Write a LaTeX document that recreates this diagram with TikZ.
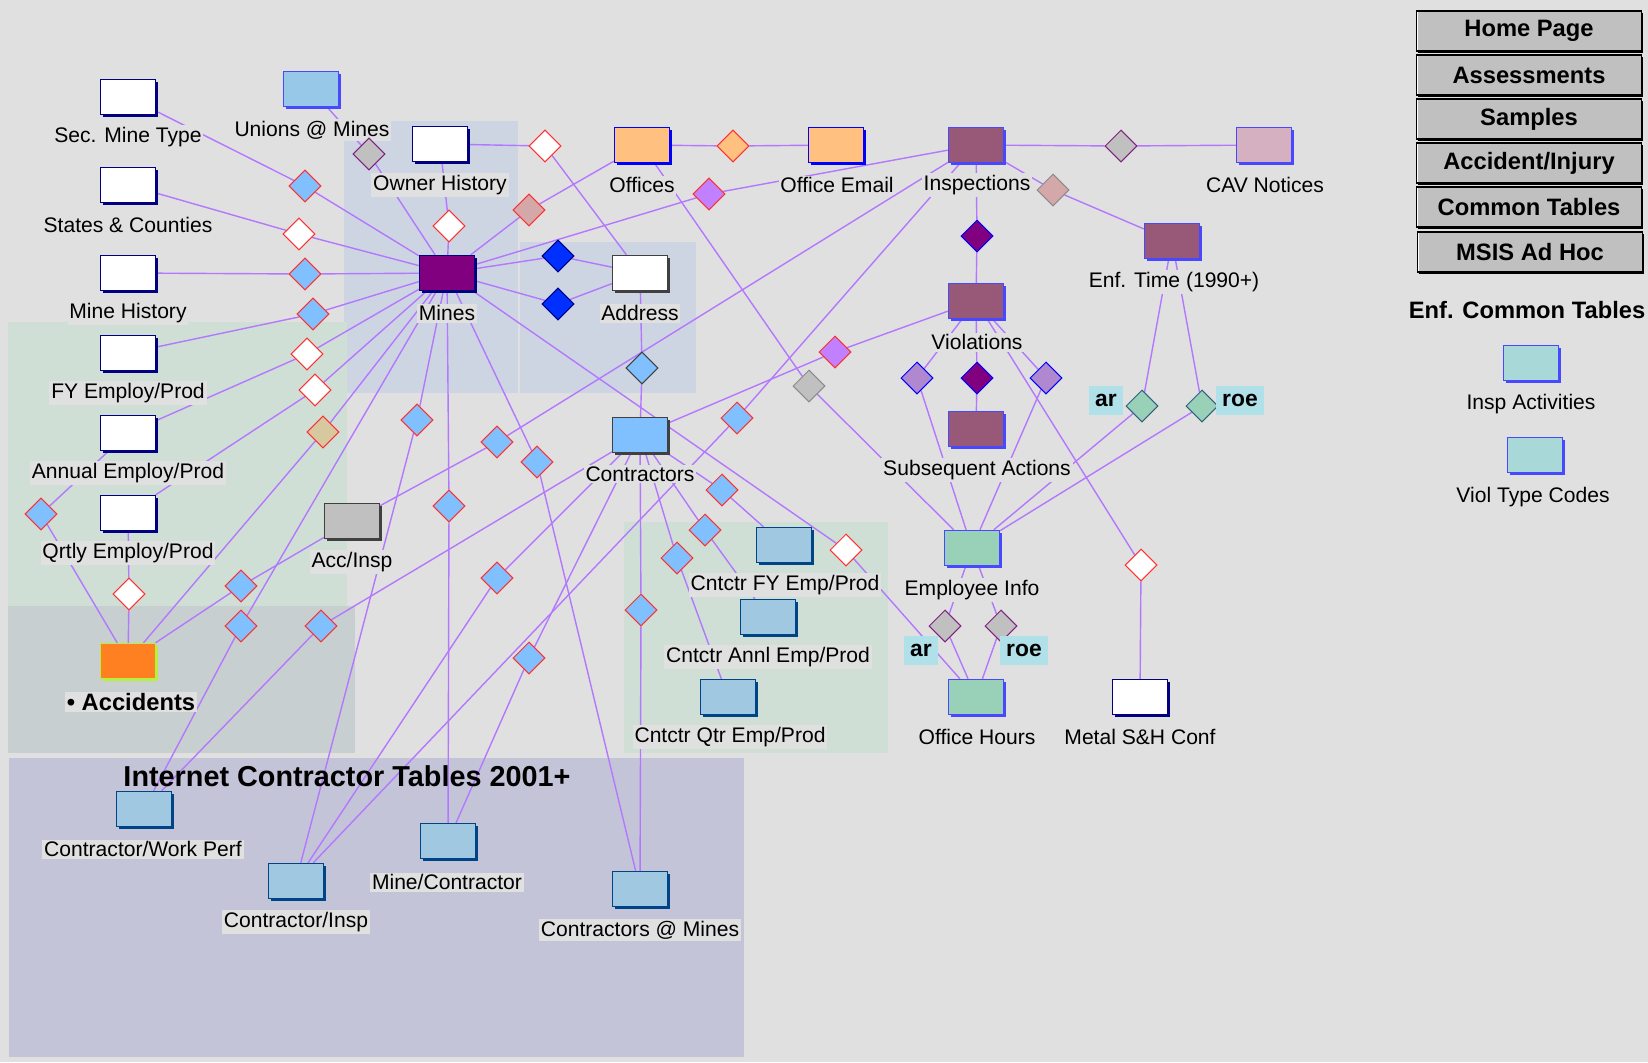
\documentclass[tikz,border=0pt]{standalone}
\usepackage{fontspec}
\setmainfont{Liberation Sans}
\usetikzlibrary{shapes.geometric,shadows}
\definecolor{PageGray}{HTML}{E0E0E0}
\definecolor{MinesZone}{HTML}{CDD5E3}
\definecolor{EmployZone}{HTML}{CFDFD5}
\definecolor{AccidZone}{HTML}{C8CFD0}
\definecolor{WebZone}{HTML}{C4C4D8}
\definecolor{LinkViolet}{HTML}{B478FF}
\definecolor{NavyLine}{HTML}{000080}
\definecolor{BlueLine}{HTML}{4848FF}
\definecolor{PureBlue}{HTML}{0000FF}
\definecolor{GrayLine}{HTML}{404040}
\definecolor{GrayMid}{HTML}{8A8A8A}
\definecolor{CntLine}{HTML}{004488}
\definecolor{MinesPurple}{HTML}{800080}
\definecolor{OfficeOrange}{HTML}{FFC080}
\definecolor{InspMauve}{HTML}{985878}
\definecolor{CavPink}{HTML}{D4B0C0}
\definecolor{UnionBlue}{HTML}{98C8E8}
\definecolor{EmpGreen}{HTML}{98D0B8}
\definecolor{CodeCyan}{HTML}{A8D8D8}
\definecolor{CntBlue}{HTML}{A0C8E0}
\definecolor{ContrBlue}{HTML}{80C0FF}
\definecolor{AccGray}{HTML}{C0C0C0}
\definecolor{AccOrange}{HTML}{FF8020}
\definecolor{AccLime}{HTML}{B8F040}
\definecolor{DiaRed}{HTML}{FF3030}
\definecolor{DiaTan}{HTML}{D8C8A0}
\definecolor{DiaRose}{HTML}{D4A8A8}
\definecolor{DiaViolet}{HTML}{C080FF}
\definecolor{DiaPurpleLine}{HTML}{802080}
\definecolor{DkBlueDia}{HTML}{0030FF}
\definecolor{LavDia}{HTML}{B088D0}
\definecolor{GreenDiaLine}{HTML}{306080}
\definecolor{TagCyan}{HTML}{B0E0E8}
\pgfdeclarelayer{zones}\pgfdeclarelayer{links}
\pgfsetlayers{zones,links,main}
\tikzset{
  rel/.style={draw=LinkViolet,line width=0.8pt},
  tbl/.style 2 args={draw=#1,fill=#2,line width=0.8pt,minimum width=1.1cm,minimum height=0.7cm,inner sep=0pt,
    general shadow={fill=#1,shadow xshift=1.4pt,shadow yshift=-1.4pt}},
  lookup/.style={tbl={NavyLine}{white}}, enfTbl/.style={tbl={BlueLine}{InspMauve}},
  cntTbl/.style={tbl={CntLine}{CntBlue}}, empTbl/.style={tbl={BlueLine}{EmpGreen}},
  codeTbl/.style={tbl={BlueLine}{CodeCyan}}, officeTbl/.style={tbl={PureBlue}{OfficeOrange}},
  dia/.style 2 args={diamond,draw=#1,fill=#2,line width=0.6pt,inner sep=0pt,minimum width=0.64cm,minimum height=0.64cm},
  blueRel/.style={dia={DiaRed}{ContrBlue}}, whiteRel/.style={dia={DiaRed}{white}},
  tanRel/.style={dia={DiaRed}{DiaTan}}, roseRel/.style={dia={DiaRed}{DiaRose}},
  violetRel/.style={dia={DiaRed}{DiaViolet}}, orangeRel/.style={dia={DiaRed}{OfficeOrange}},
  grayPRel/.style={dia={DiaPurpleLine}{AccGray}}, grayRel/.style={dia={GrayMid}{AccGray}},
  roseGrayRel/.style={dia={GrayMid}{DiaRose}}, navyRel/.style={dia={NavyLine}{DkBlueDia}},
  addrRel/.style={dia={GrayLine}{ContrBlue}}, purpleRel/.style={dia={PureBlue}{MinesPurple}},
  lavRel/.style={dia={PureBlue}{LavDia}}, greenRel/.style={dia={GreenDiaLine}{EmpGreen}},
  lbl/.style={fill=PageGray,inner sep=1pt,font=\fontsize{12}{13}\selectfont},
  tag/.style={fill=TagCyan,inner xsep=3.5pt,minimum height=0.58cm,font=\fontsize{13}{14}\selectfont\bfseries},
  btn/.style={draw=black,fill=AccGray,line width=0.7pt,minimum width=4.5cm,minimum height=0.8cm,inner sep=0pt,
    font=\fontsize{13.5}{14}\selectfont\bfseries,general shadow={fill=black,shadow xshift=1pt,shadow yshift=-1pt},
    path picture={\draw[white,line width=1.6pt] (path picture bounding box.south west) |- (path picture bounding box.north east);}},
}
\begin{document}
\begin{tikzpicture}[x=0.02cm,y=-0.02cm,line cap=round]
  \useasboundingbox (0,0) rectangle (1648,1062);
  \begin{pgfonlayer}{zones}
    \fill[PageGray] (0,0) rectangle (1648,1062);
    \fill[MinesZone] (344,121) rectangle (518,393); \fill[MinesZone] (520,242) rectangle (696,393);
    \fill[EmployZone] (8,322) rectangle (347,606); \fill[AccidZone] (8,606) rectangle (355,753);
    \fill[EmployZone] (624,522) rectangle (888,753); \fill[WebZone] (9,758) rectangle (744,1057);
  \end{pgfonlayer}
  % tables
  \node[lookup] (sectype) at (128,97) {}; \node[lookup] (states) at (128,185) {};
  \node[lookup] (minehist) at (128,273) {}; \node[lookup] (fyemp) at (128,353) {};
  \node[lookup] (annemp) at (128,433) {}; \node[lookup] (qtremp) at (128,513) {};
  \node[tbl={AccLime}{AccOrange}] (accid) at (128,661) {};
  \node[tbl={BlueLine}{UnionBlue}] (unions) at (311,89) {};
  \node[lookup] (ownhist) at (440,144) {}; \node[tbl={NavyLine}{MinesPurple}] (mines) at (447,273) {};
  \node[tbl={GrayLine}{white}] (address) at (640,273) {}; \node[tbl={GrayLine}{ContrBlue}] (contr) at (640,435) {};
  \node[tbl={GrayLine}{AccGray}] (accinsp) at (352,521) {};
  \node[officeTbl] (offices) at (642,145) {}; \node[officeTbl] (offemail) at (836,145) {};
  \node[enfTbl] (insp) at (976,145) {}; \node[tbl={BlueLine}{CavPink}] (cav) at (1264,145) {};
  \node[enfTbl] (enftime) at (1172,241) {}; \node[enfTbl] (viol) at (976,301) {};
  \node[enfTbl] (subseq) at (976,429) {};
  \node[cntTbl] (cfy) at (784,545) {}; \node[cntTbl] (cannl) at (768,617) {}; \node[cntTbl] (cqtr) at (728,697) {};
  \node[empTbl] (empinfo) at (972,548) {}; \node[empTbl] (offhours) at (976,697) {};
  \node[lookup] (metal) at (1140,697) {};
  \node[cntTbl] (cwork) at (144,809) {}; \node[cntTbl] (cinsp) at (296,881) {};
  \node[cntTbl] (minecon) at (448,841) {}; \node[cntTbl] (contmines) at (640,889) {};
  \node[codeTbl] (inspact) at (1531,363) {}; \node[codeTbl] (violtype) at (1535,455) {};
  % table names
  \node[lbl] (sectypeL) at (128,137) {Sec. Mine Type}; \node[lbl] (statesL) at (128,225) {States \& Counties};
  \node[lbl] (minehistL) at (128,313) {Mine History}; \node[lbl] (fyempL) at (128,393) {FY Employ/Prod};
  \node[lbl] (annempL) at (128,473) {Annual Employ/Prod}; \node[lbl] (qtrempL) at (128,553) {Qrtly Employ/Prod};
  \node[lbl,font=\fontsize{13.5}{14}\selectfont\bfseries] (accidL) at (131,702) {\textbullet\ Accidents};
  \node[lbl] (unionsL) at (312,130) {Unions @ Mines}; \node[lbl] (ownhistL) at (440,185) {Owner History};
  \node[lbl] (minesL) at (447,313) {Mines}; \node[lbl] (addressL) at (640,313) {Address};
  \node[lbl] (contrL) at (640,474) {Contractors}; \node[lbl] (accinspL) at (352,562) {Acc/Insp};
  \node[lbl] (officesL) at (642,185) {Offices}; \node[lbl] (offemailL) at (837,185) {Office Email};
  \node[lbl] (inspL) at (977,185) {Inspections}; \node[lbl] (cavL) at (1265,185) {CAV Notices};
  \node[lbl] (enftimeL) at (1174,282) {Enf. Time (1990+)}; \node[lbl] (violL) at (977,342) {Violations};
  \node[lbl] (subseqL) at (977,470) {Subsequent Actions};
  \node[lbl] (cfyL) at (785,585) {Cntctr FY Emp/Prod}; \node[lbl] (cannlL) at (768,657) {Cntctr Annl Emp/Prod};
  \node[lbl] (cqtrL) at (730,737) {Cntctr Qtr Emp/Prod};
  \node[lbl] (empinfoL) at (972,590) {Employee Info}; \node[lbl] (offhoursL) at (977,737) {Office Hours};
  \node[lbl] (metalL) at (1140,737) {Metal S\&H Conf};
  \node[lbl] (cworkL) at (143,849) {Contractor/Work Perf}; \node[lbl] (cinspL) at (296,922) {Contractor/Insp};
  \node[lbl] (mineconL) at (447,882) {Mine/Contractor}; \node[lbl] (contminesL) at (640,930) {Contractors @ Mines};
  \node[lbl] (inspactL) at (1531,404) {Insp Activities}; \node[lbl] (violtypeL) at (1533,497) {Viol Type Codes};
  \node[font=\fontsize{16.4}{17}\selectfont\bfseries] (webTitle) at (347,776) {Internet Contractor Tables 2001+};
  \node[font=\fontsize{13.5}{14}\selectfont\bfseries] (codesTitle) at (1527,310) {Enf. Common Tables};
  % relationships
  \node[blueRel] (secRel) at (305,186) {}; \node[whiteRel] (statesRel) at (299,234) {};
  \node[blueRel] (histRel) at (305,274) {}; \node[blueRel] (fyRel) at (313,314) {};
  \node[whiteRel] (annRel) at (307,354) {}; \node[whiteRel] (qtrRel) at (315,390) {};
  \node[tanRel] (accMinesRel) at (323,432) {}; \node[grayPRel] (unionRel) at (369,154) {};
  \node[whiteRel] (ownRel) at (449,226) {}; \node[whiteRel] (ownAddrRel) at (545,146) {};
  \node[roseRel] (officeRel) at (529,210) {}; \node[violetRel] (inspMinesRel) at (709,194) {};
  \node[navyRel] (addrRelA) at (558,256) {}; \node[navyRel] (addrRelB) at (558,304) {};
  \node[addrRel] (addrContrRel) at (642,368) {}; \node[orangeRel] (emailRel) at (733,146) {};
  \node[grayPRel] (cavRel) at (1121,146) {}; \node[roseGrayRel] (enfRel) at (1053,190) {};
  \node[purpleRel] (violRel) at (977,236) {}; \node[purpleRel] (subseqRel) at (977,378) {};
  \node[lavRel] (empRelA) at (917,378) {}; \node[lavRel] (empRelB) at (1046,378) {};
  \node[whiteRel] (metalRel) at (1141,565) {};
  \node[greenRel] (arRel) at (1142,406) {}; \node[greenRel] (roeRel) at (1202,406) {};
  \node[grayRel] (officeEmpRel) at (809,386) {}; \node[violetRel] (contrViolRel) at (835,352) {};
  \node[blueRel] (inspCinspRel) at (737,418) {}; \node[blueRel] (accInspRel) at (497,442) {};
  \node[blueRel] (accAccRel) at (241,586) {}; \node[whiteRel] (accQtrRel) at (129,594) {};
  \node[blueRel] (accAnnRel) at (41,514) {};
  \node[blueRel] (minesCinspRel) at (417,420) {}; \node[blueRel] (minesMcRel) at (449,506) {};
  \node[blueRel] (minesCmRel) at (537,462) {}; \node[blueRel] (minesWorkRel) at (241,626) {};
  \node[whiteRel] (hoursRel) at (846,550) {};
  \node[blueRel] (contrWorkRel) at (321,626) {}; \node[blueRel] (contrCinspRel) at (497,578) {};
  \node[blueRel] (contrMcRel) at (529,658) {}; \node[blueRel] (contrCmRel) at (641,610) {};
  \node[blueRel] (fyRelC) at (722,490) {}; \node[blueRel] (annlRelC) at (705,530) {};
  \node[blueRel] (qtrRelC) at (677,558) {};
  \node[grayPRel] (hoursArRel) at (945,626) {}; \node[grayPRel] (hoursRoeRel) at (1001,626) {};
  \node[tag] (arTag) at (1106,400) {ar}; \node[tag] (roeTag) at (1240,400) {roe};
  \node[tag] (arTagB) at (921,650) {ar}; \node[tag] (roeTagB) at (1024,650) {roe};
  % buttons
  \node[btn] (home) at (1529,31) {Home Page}; \node[btn] (assess) at (1529,75) {Assessments};
  \node[btn] (samples) at (1529,119) {Samples}; \node[btn] (accinj) at (1529,163) {Accident/Injury};
  \node[btn] (common) at (1529,207) {Common Tables}; \node[btn] (adhoc) at (1530,252) {MSIS Ad Hoc};
  % links
  \begin{pgfonlayer}{links}
    \draw[rel] (sectype) -- (secRel) -- (mines); \draw[rel] (states) -- (statesRel) -- (mines);
    \draw[rel] (minehist) -- (histRel) -- (mines); \draw[rel] (fyemp) -- (fyRel) -- (mines);
    \draw[rel] (annemp) -- (annRel) -- (mines); \draw[rel] (qtremp) -- (qtrRel) -- (mines);
    \draw[rel] (accid) -- (accMinesRel) -- (mines); \draw[rel] (unions) -- (unionRel) -- (mines);
    \draw[rel] (ownhist) -- (ownRel) -- (mines); \draw[rel] (ownhist) -- (ownAddrRel) -- (address);
    \draw[rel] (mines) -- (officeRel) -- (offices); \draw[rel] (mines) -- (inspMinesRel) -- (insp);
    \draw[rel] (mines) -- (addrRelA) -- (address); \draw[rel] (mines) -- (addrRelB) -- (address);
    \draw[rel] (address) -- (addrContrRel) -- (contr); \draw[rel] (offices) -- (emailRel) -- (offemail);
    \draw[rel] (insp) -- (cavRel) -- (cav); \draw[rel] (insp) -- (enfRel) -- (enftime);
    \draw[rel] (insp) -- (violRel) -- (viol); \draw[rel] (viol) -- (subseqRel) -- (subseq);
    \draw[rel] (viol) -- (empRelA) -- (empinfo); \draw[rel] (viol) -- (empRelB) -- (empinfo);
    \draw[rel] (viol) -- (metalRel) -- (metal);
    \draw[rel] (enftime) -- (arRel) -- (empinfo); \draw[rel] (enftime) -- (roeRel) -- (empinfo);
    \draw[rel] (offices) -- (officeEmpRel) -- (empinfo); \draw[rel] (contr) -- (contrViolRel) -- (viol);
    \draw[rel] (insp) -- (inspCinspRel) -- (cinsp); \draw[rel] (accinsp) -- (accInspRel) -- (insp);
    \draw[rel] (accid) -- (accAccRel) -- (accinsp); \draw[rel] (accid) -- (accQtrRel) -- (qtremp);
    \draw[rel] (accid) -- (accAnnRel) -- (annemp);
    \draw[rel] (mines) -- (minesCinspRel) -- (cinsp); \draw[rel] (mines) -- (minesMcRel) -- (minecon);
    \draw[rel] (mines) -- (minesCmRel) -- (contmines); \draw[rel] (mines) -- (minesWorkRel) -- (cwork);
    \draw[rel] (mines) -- (hoursRel) -- (offhours);
    \draw[rel] (contr) -- (contrWorkRel) -- (cwork); \draw[rel] (contr) -- (contrCinspRel) -- (cinsp);
    \draw[rel] (contr) -- (contrMcRel) -- (minecon); \draw[rel] (contr) -- (contrCmRel) -- (contmines);
    \draw[rel] (contr) -- (fyRelC) -- (cfy); \draw[rel] (contr) -- (annlRelC) -- (cannl);
    \draw[rel] (contr) -- (qtrRelC) -- (cqtr);
    \draw[rel] (empinfo) -- (hoursArRel) -- (offhours); \draw[rel] (empinfo) -- (hoursRoeRel) -- (offhours);
  \end{pgfonlayer}
\end{tikzpicture}
\end{document}
